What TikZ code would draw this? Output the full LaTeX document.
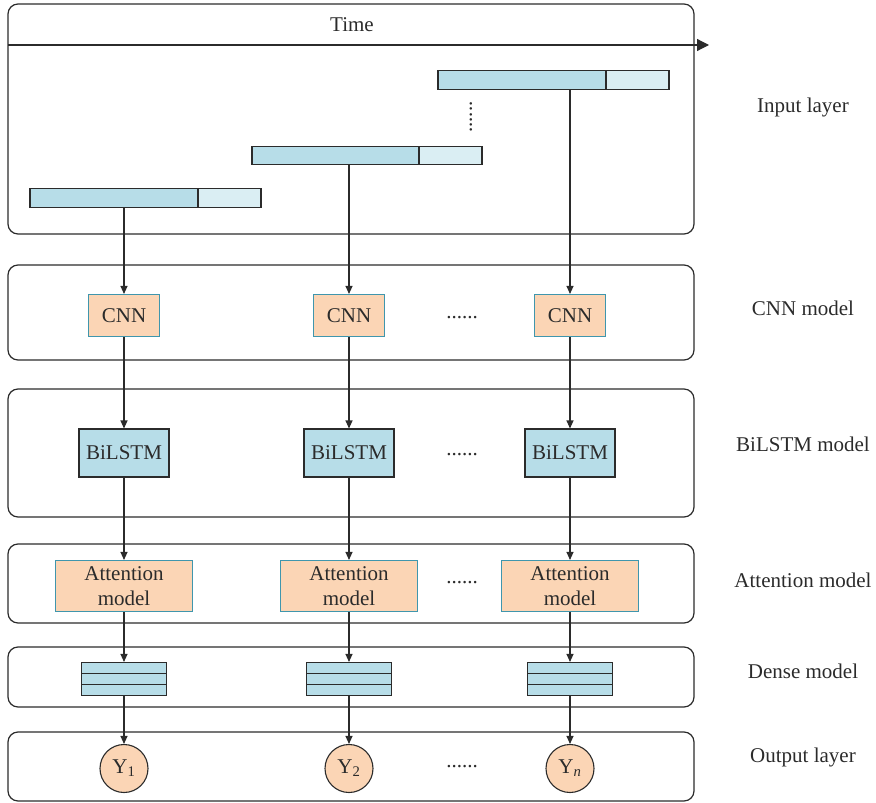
\documentclass[tikz,border=0pt]{standalone}
\usepackage{fontspec}
\setmainfont{Liberation Serif}
\usetikzlibrary{positioning,arrows.meta}
\definecolor{cellblue}{HTML}{B7DDE8}
\definecolor{paleblue}{HTML}{DAEEF3}
\definecolor{peach}{HTML}{FBD5B5}
\definecolor{tealedge}{HTML}{3F96AD}
\definecolor{ink}{HTML}{2B2B2B}
\tikzset{layer/.style={draw=ink,line width=1.2pt,rounded corners=10pt},
    seqbar/.style={draw=ink,line width=1.1pt,fill=cellblue,minimum height=18.6pt,
    inner sep=0pt,outer sep=0pt,minimum width=#1},
    seqtail/.style={seqbar=#1,fill=paleblue},
    cnnbox/.style={draw=tealedge,line width=1.1pt,fill=peach,minimum width=71pt,
    minimum height=42pt,inner sep=0pt},
    lstmbox/.style={draw=ink,line width=1.1pt,fill=cellblue,minimum width=90pt,
    minimum height=48pt,inner sep=0pt},
    attbox/.style={cnnbox,minimum width=137pt,minimum height=51pt,align=center},
    densebox/.style={draw=ink,line width=1.1pt,fill=cellblue,minimum width=85pt,
    minimum height=33pt,inner sep=0pt,
    path picture={\draw[ink,line width=1.1pt]
    ([yshift=-11pt]path picture bounding box.north west)--([yshift=-11pt]path picture bounding box.north east)
    ([yshift=11pt]path picture bounding box.south west)--([yshift=11pt]path picture bounding box.south east);}},
    outnode/.style={circle,draw=ink,line width=1.1pt,fill=peach,minimum size=48pt,inner sep=0pt},
    flow/.style={-{Triangle[length=8pt,width=7pt]},draw=ink,line width=1.1pt},
    dotsep/.style={inner sep=0pt},
    sidelabel/.style={inner sep=0pt}}

\begin{document}
\begin{tikzpicture}[x=1pt,y=-1pt,font=\fontsize{21}{25}\selectfont,text=ink]
        \useasboundingbox (0,0) rectangle (876,803);
        % layer frames
        \draw[layer](8,4) rectangle (694,234);
        \draw[layer](8,265) rectangle (694,360);
        \draw[layer](8,389) rectangle (694,517);
        \draw[layer](8,544) rectangle (694,623);
        \draw[layer](8,647) rectangle (694,707);
        \draw[layer](8,732) rectangle (694,801);
        % time axis
        \node (time) at (352,25) {Time};
        \coordinate (t0) at (8,45);
        \coordinate (t1) at (709,45);
        \draw[ink,line width=1.2pt,-{Triangle[length=12pt,width=12pt]}](t0)--(t1);
        % input windows
        \node[seqbar=168pt] (in1) at (114,198) {};
        \node[seqtail=63pt,right=0pt of in1] (in1t) {};
        \node[seqbar=167pt] (in2) at (335.5,155.5) {};
        \node[seqtail=63pt,right=0pt of in2] (in2t) {};
        \node[seqbar=168pt] (in3) at (522,80) {};
        \node[seqtail=63pt,right=0pt of in3] (in3t) {};
        \node[dotsep,rotate=90] (indots) at (471,117) {......};
        % columns
        \node[cnnbox] (cnn1) at (124,315.5) {CNN};
        \node[cnnbox] (cnn2) at (349,315.5) {CNN};
        \node[cnnbox] (cnn3) at (570,315.5) {CNN};
        \node[dotsep] (cnndots) at (462,318) {......};
        \node[lstmbox] (lstm1) at (124,453) {BiLSTM};
        \node[lstmbox] (lstm2) at (349,453) {BiLSTM};
        \node[lstmbox] (lstm3) at (570,453) {BiLSTM};
        \node[dotsep] (lstmdots) at (462,455) {......};
        \node[attbox] (att1) at (124,586) {Attention\\model};
        \node[attbox] (att2) at (349,586) {Attention\\model};
        \node[attbox] (att3) at (570,586) {Attention\\model};
        \node[dotsep] (attdots) at (462,583) {......};
        \node[densebox] (dense1) at (124,679) {};
        \node[densebox] (dense2) at (349,679) {};
        \node[densebox] (dense3) at (570,679) {};
        \node[outnode] (y1) at (124,768.5) {Y\textsubscript{1}};
        \node[outnode] (y2) at (349,768.5) {Y\textsubscript{2}};
        \node[outnode] (y3) at (570,768.5) {Y\textsubscript{\textit{n}}};
        \node[dotsep] (outdots) at (462,767) {......};
        % connectors
        \draw[flow](in1.south -| cnn1.north)--(cnn1.north);
        \draw[flow](in2.south -| cnn2.north)--(cnn2.north);
        \draw[flow](in3.south -| cnn3.north)--(cnn3.north);
        \draw[flow](cnn1)--(lstm1);\draw[flow](cnn2)--(lstm2);\draw[flow](cnn3)--(lstm3);
        \draw[flow](lstm1)--(att1);\draw[flow](lstm2)--(att2);\draw[flow](lstm3)--(att3);
        \draw[flow](att1)--(dense1);\draw[flow](att2)--(dense2);\draw[flow](att3)--(dense3);
        \draw[flow](dense1)--(y1);\draw[flow](dense2)--(y2);\draw[flow](dense3)--(y3);
        % layer names
        \node[sidelabel] (lbin) at (803,107) {Input layer};
        \node[sidelabel] (lbcnn) at (803,308) {CNN model};
        \node[sidelabel] (lblstm) at (803,444) {BiLSTM model};
        \node[sidelabel] (lbatt) at (803,580) {Attention model};
        \node[sidelabel] (lbdense) at (803,671) {Dense model};
        \node[sidelabel] (lbout) at (803,757) {Output layer};
\end{tikzpicture}
\end{document}
